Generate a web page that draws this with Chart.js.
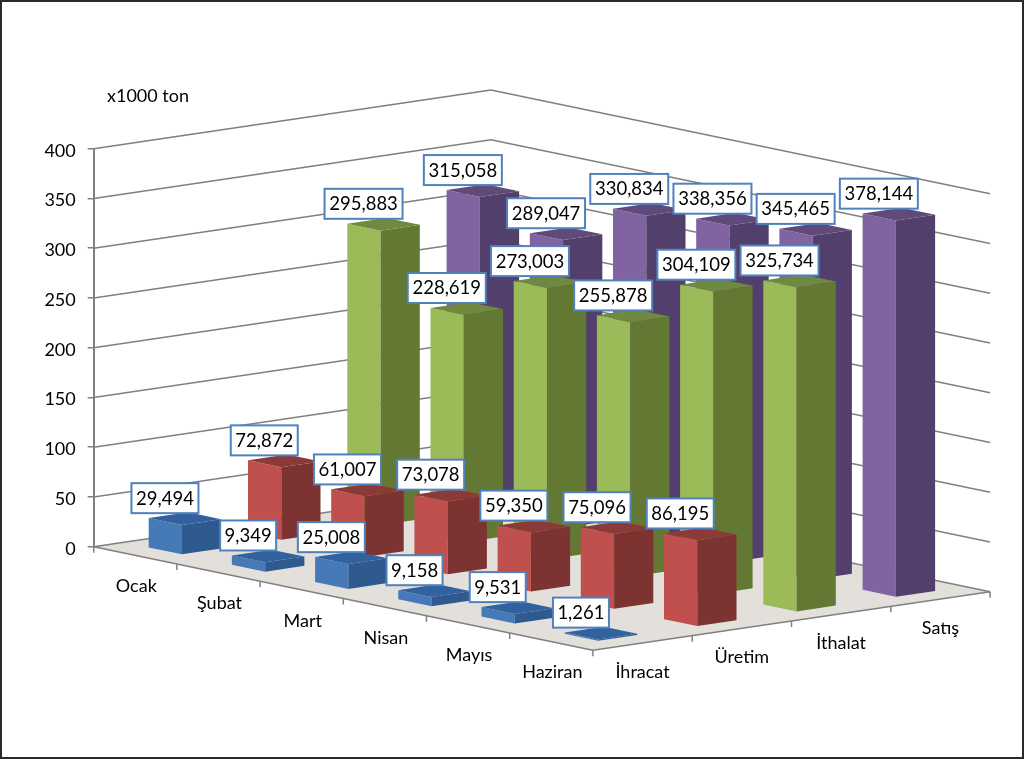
<!DOCTYPE html>
<html>
<head>
<meta charset="utf-8">
<style>
    body { margin: 0; background: #fff; }
    canvas { display: block; }
</style>
<script src="https://cdn.jsdelivr.net/npm/chart.js@4"></script>
</head>
<body>
<canvas id="chart" width="1024" height="759"></canvas>
<script>
const months = ['Ocak', 'Şubat', 'Mart', 'Nisan', 'Mayıs', 'Haziran'];
const seriesNames = ['İhracat', 'Üretim', 'İthalat', 'Satış'];
const ihracat = [29494, 9349, 25008, 9158, 9531, 1261];
const uretim = [72872, 61007, 73078, 59350, 75096, 86195];
const ithalat = [295883, 228619, 273003, 255878, 304109, 325734];
const satis = [315058, 289047, 330834, 338356, 345465, 378144];
const unitLabel = 'x1000 ton';

// colours per series: front-left face, right face, top face
const faces = [
    ['#4579b8', '#2f5a8f', '#32629d'],
    ['#c0504d', '#7d3331', '#8c3a38'],
    ['#9bbb59', '#637833', '#6f8a40'],
    ['#8064a2', '#533f6b', '#5f4a7a']
];

// oblique projection of the floor, in pixels per category step
const MONTH_DROP = 17.27;
const SERIES_DX = 99.3;
const SERIES_DY = -14.65;
const BAR_MONTH = 0.4;
const BAR_SERIES = 0.395;
const LINE_COLOR = '#808080';
const TEXT_COLOR = '#000';
const AXIS_FONT = '18px Lato';
const LABEL_FONT = '18.5px Lato';

// position on the floor; month and series are in category units, -0.5 is the outer edge
function floorPoint(scales, month, series) {
    return {
        x: scales.x.getPixelForValue(month) + (series + 0.5) * SERIES_DX,
        y: scales.y.getPixelForValue(0) + (month + 0.5) * MONTH_DROP + (series + 0.5) * SERIES_DY
    };
}

function polygon(ctx, points, color) {
    ctx.beginPath();
    points.forEach((p, i) => i ? ctx.lineTo(p.x, p.y) : ctx.moveTo(p.x, p.y));
    ctx.closePath();
    ctx.fillStyle = color;
    ctx.fill();
}

function line(ctx, a, b) {
    ctx.beginPath();
    ctx.moveTo(a.x, a.y);
    ctx.lineTo(b.x, b.y);
    ctx.stroke();
}

function lift(p, h) {
    return { x: p.x, y: p.y - h };
}

function drawFloorAndWalls(chart) {
    const { ctx, scales } = chart;
    const lastMonth = months.length - 0.5;
    const lastSeries = seriesNames.length - 0.5;
    const left = floorPoint(scales, -0.5, -0.5);
    const front = floorPoint(scales, lastMonth, -0.5);
    const right = floorPoint(scales, lastMonth, lastSeries);
    const back = floorPoint(scales, -0.5, lastSeries);

    polygon(ctx, [left, front, right, back], '#e3dfdb');

    ctx.strokeStyle = LINE_COLOR;
    ctx.lineWidth = 1.5;
    scales.y.ticks.forEach(t => {
        const h = scales.y.getPixelForValue(0) - scales.y.getPixelForValue(t.value);
        line(ctx, lift(left, h), lift(back, h));
        line(ctx, lift(back, h), lift(right, h));
    });

    // front edges of the floor with their tick marks
    line(ctx, left, front);
    line(ctx, front, right);
    for (let m = 0; m <= months.length; m++) {
        const p = floorPoint(scales, m - 0.5, -0.5);
        line(ctx, p, lift(p, -6));
    }
    for (let s = 1; s <= seriesNames.length; s++) {
        const p = floorPoint(scales, lastMonth, s - 0.5);
        line(ctx, p, lift(p, -6));
    }

    ctx.fillStyle = TEXT_COLOR;
    ctx.font = AXIS_FONT;
    ctx.textAlign = 'center';
    ctx.textBaseline = 'middle';
    months.forEach((name, m) => {
        const p = floorPoint(scales, m, -0.5);
        ctx.fillText(name, p.x + 1, p.y + 31);
    });
    seriesNames.forEach((name, s) => {
        const p = floorPoint(scales, lastMonth, s);
        ctx.fillText(name, p.x, p.y + 29);
    });
    ctx.textAlign = 'left';
    ctx.fillText(unitLabel, 107, 96);
}

function drawBar(chart, m, s, value) {
    const { ctx, scales } = chart;
    const h = scales.y.getPixelForValue(0) - scales.y.getPixelForValue(value);
    const a = floorPoint(scales, m - BAR_MONTH / 2, s - BAR_SERIES / 2);
    const b = floorPoint(scales, m + BAR_MONTH / 2, s - BAR_SERIES / 2);
    const c = floorPoint(scales, m + BAR_MONTH / 2, s + BAR_SERIES / 2);
    const d = floorPoint(scales, m - BAR_MONTH / 2, s + BAR_SERIES / 2);
    polygon(ctx, [a, b, lift(b, h), lift(a, h)], faces[s][0]);
    polygon(ctx, [b, c, lift(c, h), lift(b, h)], faces[s][1]);
    polygon(ctx, [lift(a, h), lift(b, h), lift(c, h), lift(d, h)], faces[s][2]);
}

function drawLabel(chart, m, s, value) {
    const { ctx, scales } = chart;
    const h = scales.y.getPixelForValue(0) - scales.y.getPixelForValue(value);
    const p = lift(floorPoint(scales, m, s), h);
    const text = value.toLocaleString('en-US');
    ctx.font = LABEL_FONT;
    const w = Math.round(ctx.measureText(text).width) + 9;
    const cx = p.x - 20;
    const cy = p.y - 20.5;
    ctx.fillStyle = '#fff';
    ctx.fillRect(cx - w / 2, cy - 15, w, 30);
    ctx.strokeStyle = '#4f81bd';
    ctx.lineWidth = 2;
    ctx.strokeRect(cx - w / 2, cy - 15, w, 30);
    ctx.fillStyle = TEXT_COLOR;
    ctx.textAlign = 'center';
    ctx.textBaseline = 'middle';
    ctx.fillText(text, cx, cy + 0.5);
}

const bars3d = {
    id: 'bars3d',
    beforeDatasetsDraw(chart) {
        const cells = [];
        chart.data.datasets.forEach((ds, s) => {
            ds.data.forEach((value, m) => cells.push({ m, s, value }));
        });
        // far cells first so nearer bars cover them
        cells.sort((a, b) => (a.m - a.s) - (b.m - b.s));

        drawFloorAndWalls(chart);
        cells.forEach(c => drawBar(chart, c.m, c.s, c.value));
        cells.forEach(c => drawLabel(chart, c.m, c.s, c.value));

        const { ctx } = chart;
        ctx.strokeStyle = '#2a2a2a';
        ctx.lineWidth = 2;
        ctx.strokeRect(1, 1, chart.width - 2, chart.height - 2);
        return false;
    }
};

new Chart(document.getElementById('chart').getContext('2d'), {
    type: 'bar',
    data: {
        labels: months,
        datasets: [
            { label: seriesNames[0], data: ihracat, backgroundColor: faces[0][0] },
            { label: seriesNames[1], data: uretim, backgroundColor: faces[1][0] },
            { label: seriesNames[2], data: ithalat, backgroundColor: faces[2][0] },
            { label: seriesNames[3], data: satis, backgroundColor: faces[3][0] }
        ]
    },
    options: {
        responsive: false,
        animation: false,
        layout: {
            padding: { top: 148.7, bottom: 212.3, left: 0, right: 431.1 }
        },
        scales: {
            x: { display: false },
            y: {
                min: 0,
                max: 400000,
                afterFit: scale => { scale.width = 93.7; },
                border: { color: LINE_COLOR, width: 2 },
                grid: { drawOnChartArea: false, color: LINE_COLOR, lineWidth: 1.5, tickLength: 6 },
                ticks: {
                    stepSize: 50000,
                    padding: 12,
                    labelOffset: 2,
                    color: TEXT_COLOR,
                    font: { family: 'Lato', size: 18 },
                    callback: value => value / 1000
                }
            }
        },
        plugins: {
            legend: { display: false },
            title: { display: false },
            tooltip: { enabled: false }
        }
    },
    plugins: [bars3d]
});
</script>
</body>
</html>
